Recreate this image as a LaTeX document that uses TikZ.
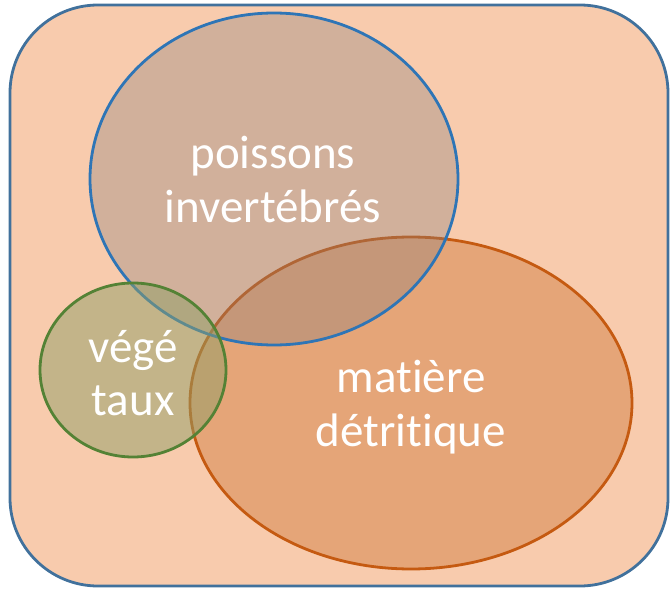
\documentclass[tikz,border=0pt]{standalone}
\usepackage{fontspec}
\setmainfont{Carlito}[Ligatures=NoCommon]
\definecolor{bgfill}{RGB}{248,203,173}
\definecolor{frameblue}{RGB}{65,113,156}
\definecolor{ellblue}{RGB}{46,117,182}
\definecolor{blfill}{RGB}{139,126,124}
\definecolor{ellorange}{RGB}{197,90,17}
\definecolor{orfill}{RGB}{212,129,69}
\definecolor{ellgreen}{RGB}{84,130,53}
\definecolor{grfill}{RGB}{144,159,103}
\tikzset{
  setshape/.style={line width=2.8pt},
  lbl/.style={text=white, font=\fontsize{47}{54}\selectfont, anchor=base, inner sep=0pt}
}
\begin{document}
\begin{tikzpicture}[x=1pt,y=-1pt]
\useasboundingbox (0,0) rectangle (670,589);
\draw[frameblue, line width=2.8pt, fill=bgfill, rounded corners=88pt] (10,5) rectangle (668,586);
\path[draw=ellorange, fill=orfill, fill opacity=0.5, setshape] (411,403) ellipse [x radius=221, y radius=166];
\path[draw=ellblue, fill=blfill, fill opacity=0.35, setshape] (274,179) ellipse [x radius=184, y radius=166];
\path[draw=ellgreen, fill=grfill, fill opacity=0.5, setshape] (133,370) ellipse [x radius=93, y radius=87];
\node[lbl] (p1) at (273,168) {poissons};
\node[lbl] (p2) at (273,222) {invertébrés};
\node[lbl] (m1) at (411,392) {matière};
\node[lbl] (m2) at (411,446) {détritique};
\node[lbl] (v1) at (133,362) {végé};
\node[lbl] (v2) at (133,415) {taux};
\end{tikzpicture}
\end{document}
